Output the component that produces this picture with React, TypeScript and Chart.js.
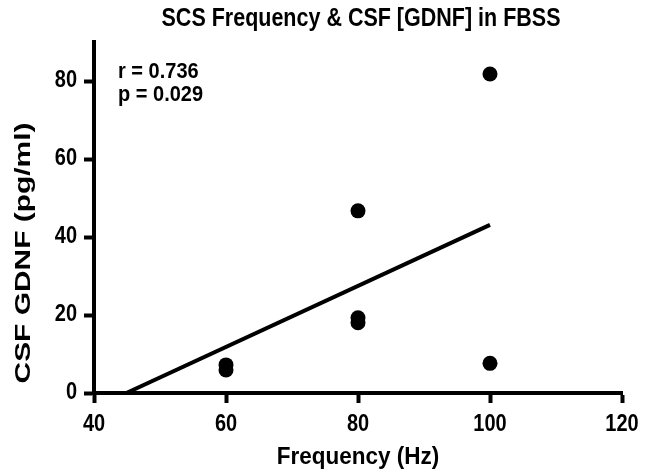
import React, { useEffect, useRef } from "react";
import { Chart, registerables } from "chart.js";

Chart.register(...registerables);

// ---- data ----
const frequencyHz = [60, 60, 80, 80, 80, 100, 100];
const csfGdnf = [7.2, 5.9, 46.7, 19.3, 18.0, 81.8, 7.6];
const fitX = [44.9, 100];
const fitY = [0, 43.1];
const xTicks = [40, 60, 80, 100, 120];
const yTicks = [0, 20, 40, 60, 80];
const chartTitle = "SCS Frequency & CSF [GDNF] in FBSS";
const xTitle = "Frequency (Hz)";
const yTitle = "CSF GDNF (pg/ml)";
const statLines = ["r = 0.736", "p = 0.029"];

const FONT = "'Liberation Sans', Arial, Helvetica, sans-serif";

function drawText(
  ctx: CanvasRenderingContext2D,
  text: string,
  x: number,
  y: number,
  size: number,
  stretch: number,
  align: CanvasTextAlign,
  baseline: CanvasTextBaseline = "middle",
  rotated = false
) {
  ctx.save();
  ctx.translate(x, y);
  if (rotated) {
    ctx.rotate(-Math.PI / 2);
    ctx.scale(stretch, 1);
  } else {
    ctx.scale(1, stretch);
  }
  ctx.font = `bold ${size}px ${FONT}`;
  ctx.textAlign = align;
  ctx.textBaseline = baseline;
  ctx.fillStyle = "#000";
  ctx.fillText(text, 0, 0);
  ctx.restore();
}

const textPlugin = {
  id: "textPlugin",
  afterDraw(chart: any) {
    const ctx = chart.ctx as CanvasRenderingContext2D;
    const ca = chart.chartArea;
    const xs = chart.scales.x;
    const ys = chart.scales.y;
    const cx = (ca.left + ca.right) / 2;
    // chart title
    drawText(ctx, chartTitle, cx + 3, 19, 21.5, 1.2, "center");
    // axis titles
    drawText(ctx, xTitle, cx, 464, 22.5, 1.1, "center", "alphabetic");
    drawText(ctx, yTitle, 24, 253, 22, 1.36, "center", "middle", true);
    // tick labels
    xTicks.forEach((v) => {
      drawText(ctx, String(v), xs.getPixelForValue(v), 425, 20, 1.15, "center");
    });
    yTicks.forEach((v) => {
      drawText(ctx, String(v), 77, ys.getPixelForValue(v), 20, 1.15, "right");
    });
    // statistics
    drawText(ctx, statLines[0], 118, 72, 20, 1.1, "left");
    drawText(ctx, statLines[1], 118, 95, 20, 1.1, "left");
  },
};

export default function App() {
  const ref = useRef<HTMLCanvasElement | null>(null);
  useEffect(() => {
    if (!ref.current) return;
    const points = frequencyHz.map((x, i) => ({ x, y: csfGdnf[i] }));
    const fit = fitX.map((x, i) => ({ x, y: fitY[i] }));
    const axisCommon = {
      grid: {
        display: true,
        drawOnChartArea: false,
        drawTicks: true,
        tickLength: 10,
        tickWidth: 4,
        color: "#000",
      },
      border: { display: true, color: "#000", width: 4 },
      ticks: { display: false },
    };
    const chart = new Chart(ref.current, {
      type: "scatter",
      data: {
        datasets: [
          {
            data: fit,
            showLine: true,
            borderColor: "#000",
            borderWidth: 4,
            pointRadius: 0,
            pointHoverRadius: 0,
            fill: false,
          },
          {
            data: points,
            backgroundColor: "#000",
            borderColor: "#000",
            borderWidth: 0,
            pointRadius: 7.5,
            pointHoverRadius: 7.5,
          },
        ],
      },
      options: {
        animation: false,
        responsive: true,
        maintainAspectRatio: false,
        layout: { padding: { top: 42, right: 27, left: 0, bottom: 0 } },
        plugins: {
          legend: { display: false },
          title: { display: false },
          tooltip: { enabled: false },
        },
        scales: {
          x: {
            type: "linear",
            min: 40,
            max: 120,
            ...axisCommon,
            afterBuildTicks: (s: any) => {
              s.ticks = xTicks.map((v) => ({ value: v }));
            },
            afterFit: (s: any) => {
              s.height = 78;
            },
          },
          y: {
            type: "linear",
            min: 0,
            max: 90,
            ...axisCommon,
            afterBuildTicks: (s: any) => {
              s.ticks = yTicks.map((v) => ({ value: v }));
            },
            afterFit: (s: any) => {
              s.width = 94;
            },
          },
        },
      },
      plugins: [textPlugin],
    } as any);
    return () => chart.destroy();
  }, []);
  return (
    <div
      style={{
        position: "absolute",
        left: 0,
        top: 0,
        width: 649,
        height: 471,
        background: "#fff",
      }}
    >
      <canvas ref={ref} />
    </div>
  );
}
